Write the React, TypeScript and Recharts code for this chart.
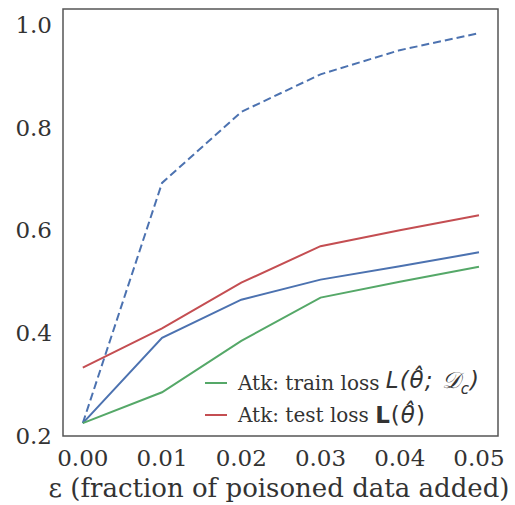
import { Line, LineChart, ReferenceArea, XAxis, YAxis } from 'recharts';

// epsilon = fraction of poisoned data added
const epsilon = [0, 0.01, 0.02, 0.03, 0.04, 0.05];
const attackDashed = [0.225, 0.692, 0.83, 0.903, 0.95, 0.983];
const attackSolid = [0.225, 0.391, 0.465, 0.504, 0.53, 0.557];
const trainLoss = [0.225, 0.285, 0.385, 0.469, 0.5, 0.529];
const testLoss = [0.333, 0.409, 0.498, 0.569, 0.6, 0.629];

const xTicks = [0, 0.01, 0.02, 0.03, 0.04, 0.05];
const yTicks = [0.2, 0.4, 0.6, 0.8, 1.0];
const xDomain: [number, number] = [-0.0025, 0.0524];
const yDomain: [number, number] = [0.2, 1.03];

const BLUE = '#4c72b0';
const GREEN = '#55a868';
const RED = '#c44e52';
const SERIF = '"DejaVu Serif", serif';
const MATH = '"DejaVu Sans", sans-serif';

const data = epsilon.map((e, i) => ({
  eps: e,
  dashed: attackDashed[i],
  solid: attackSolid[i],
  train: trainLoss[i],
  test: testLoss[i],
}));

function XTick(props: any) {
  const { x, y, payload } = props;
  return (
    <text x={x} y={y} dy="0.71em" textAnchor="middle" fontFamily={SERIF} fontSize={23} fill="#333">
      {Number(payload.value).toFixed(2)}
    </text>
  );
}

function YTick(props: any) {
  const { x, y, payload } = props;
  return (
    <text x={x} y={y} dy="0.36em" textAnchor="end" fontFamily={SERIF} fontSize={23} fill="#333">
      {Number(payload.value).toFixed(1)}
    </text>
  );
}

// legend only lists the two loss curves, drawn over the plot's lower right corner
function LossLegend() {
  const row = { display: 'flex', alignItems: 'center', height: 32 } as const;
  const swatch = (c: string) => (
    <span style={{ display: 'inline-block', width: 22, height: 2, background: c, marginRight: 11 }} />
  );
  return (
    <div
      style={{
        position: 'absolute',
        left: 205,
        top: 367,
        fontFamily: SERIF,
        fontSize: 20,
        color: '#333',
        whiteSpace: 'nowrap',
        lineHeight: 1,
      }}
    >
      <div style={row}>
        {swatch(GREEN)}
        <span>Atk: train loss&nbsp;</span>
        <span style={{ fontFamily: MATH, fontStyle: 'italic', fontSize: 23, letterSpacing: 1 }}>
          L(θ̂; 𝒟<sub style={{ fontSize: 15 }}>c</sub>)
        </span>
      </div>
      <div style={row}>
        {swatch(RED)}
        <span>Atk: test loss&nbsp;</span>
        <span style={{ fontFamily: MATH, fontSize: 23, letterSpacing: 1 }}>
          <b>L</b>(<i>θ̂</i>)
        </span>
      </div>
    </div>
  );
}

export default function App() {
  return (
    <div style={{ position: 'absolute', left: 0, top: 0, width: 515, height: 505, background: '#fff' }}>
      <LineChart width={515} height={505} data={data} margin={{ top: 9, right: 17, bottom: 0, left: 0 }}>
        <XAxis
          dataKey="eps"
          type="number"
          domain={xDomain}
          ticks={xTicks}
          allowDataOverflow
          axisLine={false}
          tickLine={false}
          tickSize={0}
          tickMargin={14}
          height={69}
          tick={<XTick />}
          label={{
            content: () => (
              <text x={279} y={497} textAnchor="middle" fontFamily={SERIF} fontSize={26} fill="#333">
                ε (fraction of poisoned data added)
              </text>
            ),
          }}
        />
        <YAxis
          type="number"
          domain={yDomain}
          ticks={yTicks}
          allowDataOverflow
          axisLine={false}
          tickLine={false}
          tickSize={0}
          tickMargin={11}
          width={63}
          tick={<YTick />}
        />
        <ReferenceArea
          x1={xDomain[0]}
          x2={xDomain[1]}
          y1={yDomain[0]}
          y2={yDomain[1]}
          fill="none"
          stroke="#555"
          strokeWidth={1.5}
          ifOverflow="visible"
        />
        <Line dataKey="dashed" stroke={BLUE} strokeWidth={2} strokeDasharray="8 4" dot={false} isAnimationActive={false} />
        <Line dataKey="solid" stroke={BLUE} strokeWidth={2} dot={false} isAnimationActive={false} />
        <Line dataKey="train" stroke={GREEN} strokeWidth={2} dot={false} isAnimationActive={false} />
        <Line dataKey="test" stroke={RED} strokeWidth={2} dot={false} isAnimationActive={false} />
      </LineChart>
      <LossLegend />
    </div>
  );
}
